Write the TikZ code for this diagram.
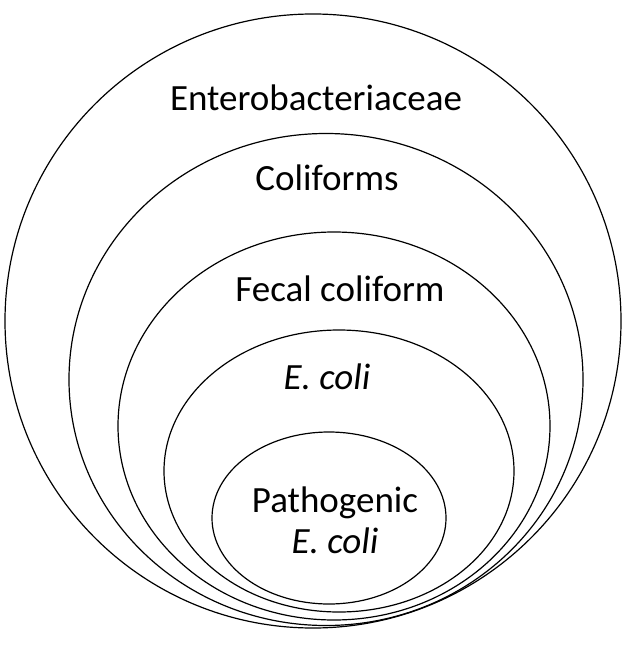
\documentclass[tikz,border=0pt]{standalone}
\usepackage{fontspec}
\setmainfont{Carlito}
\begin{document}
\begin{tikzpicture}[x=1pt,y=-1pt,ring/.style={draw=black,line width=1.2pt},lbl/.style={font=\fontsize{37}{41}\selectfont,align=center}]
\useasboundingbox (0,0) rectangle (632,650);
\draw[ring] (313,321) ellipse [x radius=308,y radius=307];
\draw[ring] (326,379.5) ellipse [x radius=257,y radius=246];
\draw[ring] (334,426) ellipse [x radius=216,y radius=194];
\draw[ring] (339,471) ellipse [x radius=175,y radius=141];
\draw[ring] (329,518) ellipse [x radius=117,y radius=86];
\node[lbl] (a) at (316,98) {Enterobacteriaceae};
\node[lbl] (b) at (327,178) {Coliforms};
\node[lbl] (c) at (340,289) {Fecal coliform};
\node[lbl] (d) at (327,377) {\itshape E. coli};
\node[lbl] (e) at (335,520) {Pathogenic\\\itshape E. coli};
\end{tikzpicture}
\end{document}
